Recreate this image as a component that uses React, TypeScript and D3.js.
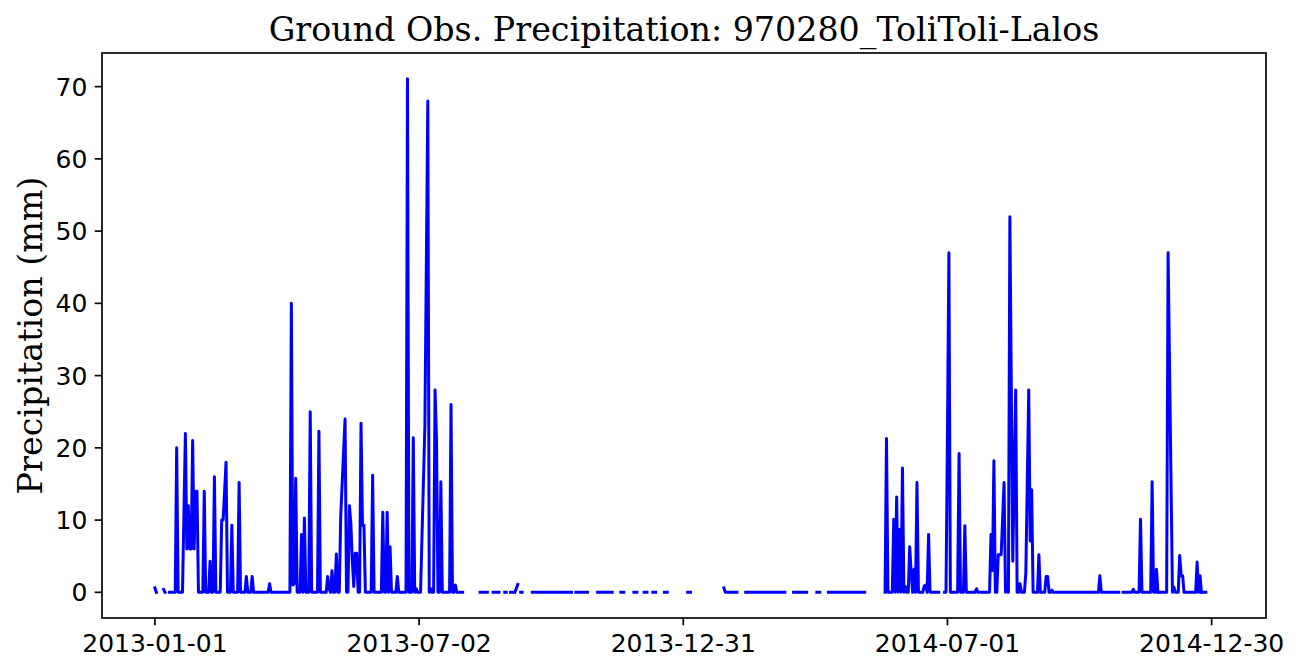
import React from "react";
import * as d3 from "d3";

type Pt = [number, number] | null;

// day offset from 2013-01-01, precipitation (mm); null = missing (line break)
const wet2013: Pt[] = [
  [0, 0.6], [1, 0], null,
  [6, 0.4], [7, 0], null,
  [10, 0], [14, 0], [15, 20], [16, 0], [19, 0], [21, 22], [22, 6], [23, 12], [24, 6], [25, 6],
  [26, 21], [27, 6], [28, 14], [29, 14], [30, 0], [33, 0], [34, 14], [35, 0], [37, 0], [38, 4.3],
  [39, 0], [40, 0], [41, 16], [42, 0], [45, 0], [46, 10], [47, 10], [49, 18], [50, 0], [52, 0],
  [53, 9.3], [54, 0], [57, 0], [58, 15.2], [59, 0], [62, 0], [63, 2.2], [64, 0], [66, 0], [67, 2.2],
  [68, 0], [78, 0], [79, 1.2], [80, 0], [93, 0], [94, 40], [95, 1], [96, 1.2], [97, 15.8], [98, 0],
  [100, 0], [101, 8], [102, 0], [103, 10.3], [104, 0], [106, 0], [107, 25], [108, 0], [112, 0],
  [113, 22.3], [114, 0], [118, 0], [119, 2.2], [120, 0.5], [121, 0], [122, 3], [123, 0], [124, 0],
  [125, 5.3], [126, 0], [127, 0], [128, 10.5], [131, 24], [132, 0], [133, 0], [134, 12], [135, 9.5],
  [136, 4.3], [137, 0.8], [138, 5.4], [139, 5.4], [140, 0], [141, 0], [142, 23.4], [143, 9.3],
  [144, 9.3], [145, 0], [149, 0], [150, 16.2], [151, 0], [156, 0], [157, 11.1], [158, 0], [159, 0],
  [160, 11.1], [161, 0], [162, 6.3], [163, 0], [166, 0], [167, 2.2], [168, 0], [173, 0], [174, 71.1],
  [175, 0], [177, 0], [178, 21.4], [179, 0], [180, 0.5], [181, 0], [183, 0], [186, 23.2], [188, 68],
  [189, 0], [190, 0.5], [191, 0], [192, 0], [193, 28], [194, 21.2], [195, 0], [196, 0], [197, 15.3],
  [198, 0], [203, 0], [204, 26], [205, 0], [206, 0], [207, 1], [208, 0], [212, 0],
];

const dry2013: Pt[] = [
  [224, 0], [229, 0], null, [233, 0], [237, 0], null, [241, 0], [242, 0], null,
  [245, 0], [246, 0], null, [248, 0], [250, 1.1], null, [252, 0], [253, 0], null,
  [260, 0], [287, 0], null, [290, 0], [298, 0], null, [305, 0], [315, 0], null,
  [321, 0], [323, 0], null, [330, 0], [332, 0], null, [337, 0], [339, 0], null,
  [343, 0], [345, 0], null, [351, 0], [353, 0], null, [367, 0], [369, 0], null,
  [392, 0.6], [393, 0], [401, 0], null, [407, 0], [434, 0], null, [440, 0], [449, 0], null,
  [456, 0], [458, 0], null, [464, 0], [489, 0],
];

const wet2014: Pt[] = [
  [503, 0], [504, 21.3], [505, 0], [508, 0], [509, 10.1], [510, 0], [511, 13.2], [512, 0],
  [513, 8.7], [514, 0], [515, 17.2], [516, 0], [517, 0.8], [518, 0], [519, 0], [520, 6.3],
  [521, 2.7], [522, 0], [523, 3.2], [524, 0], [525, 15.2], [526, 0], [529, 0], [530, 0.9],
  [531, 1], [532, 0], [533, 8], [534, 0], [540, 0], null,
  [544, 0], [545, 0], [546, 22], [547, 47], [548, 0], [553, 0], [554, 19.2], [555, 0], [557, 0], [558, 9.2],
  [559, 0], [565, 0], [566, 0.5], [567, 0], [575, 0], [576, 8], [577, 3], [578, 18.2], [579, 0],
  [580, 0], [581, 5.2], [583, 5.2], [585, 15.2], [586, 0], [587, 0.9], [588, 0], [589, 52],
  [591, 4.3], [593, 28], [594, 0], [595, 0], [596, 1.2], [597, 0], [599, 0], [600, 2.7], [602, 28],
  [603, 7.1], [604, 14.2], [605, 0], [608, 0], [609, 5.2], [610, 0], [613, 0], [614, 2.2],
  [615, 2.2], [616, 0], [617, 0], [618, 0.3], [619, 0], [650, 0], [651, 2.3], [652, 0], [664, 0], null,
  [667, 0], [673, 0], [674, 0.4], [675, 0], [678, 0], [679, 10.1], [680, 0], [686, 0], [687, 15.3],
  [688, 0], [689, 0], [690, 3.2], [691, 0], null,
  [693, 0], [697, 0], [698, 47], [701, 0], [702, 0.7], [703, 0], [705, 0], [706, 5.1], [707, 2.3],
  [708, 2.3], [709, 0], [717, 0], [718, 4.2], [719, 0], [720, 2.3], [721, 0], null,
  [723, 0], [724, 0],
];

const lastDay = 729; // 2014-12-31
const xTickLabels = ["2013-01-01", "2013-07-02", "2013-12-31", "2014-07-01", "2014-12-30"];
const yTickValues = [0, 10, 20, 30, 40, 50, 60, 70];
const titleText = "Ground Obs. Precipitation: 970280_ToliToli-Lalos";
const yLabelText = "Precipitation (mm)";

const W = 1297;
const H = 672;
const M = { left: 102, right: 1266, top: 53, bottom: 618 };
const DAY = 86400000;
const start = Date.UTC(2013, 0, 1);

export default function App() {
  const series: Pt[] = [...wet2013, null, ...dry2013, null, ...wet2014];
  const vals = series.filter((d): d is [number, number] => d !== null).map((d) => d[1]);
  const yMin = 0;
  const yMax = d3.max(vals) as number;
  const yPad = (yMax - yMin) * 0.05;
  const xPad = lastDay * 0.05;

  const x = d3
    .scaleUtc()
    .domain([new Date(start - xPad * DAY), new Date(start + (lastDay + xPad) * DAY)])
    .range([M.left, M.right]);
  const y = d3.scaleLinear().domain([yMin - yPad, yMax + yPad]).range([M.bottom, M.top]);

  const line = d3
    .line<Pt>()
    .defined((d) => d !== null)
    .x((d) => x(new Date(start + (d as [number, number])[0] * DAY)))
    .y((d) => y((d as [number, number])[1]));

  const tickLen = 7.3;
  const tickPad = 7.3;
  const tickFont = 25;
  const axisColor = "#000";

  return (
    <svg
      width={W}
      height={H}
      style={{ position: "absolute", left: 0, top: 0, display: "block", background: "#fff" }}
    >
      <rect x={0} y={0} width={W} height={H} fill="#fff" />
      <defs>
        <clipPath id="plotclip">
          <rect x={M.left} y={M.top} width={M.right - M.left} height={M.bottom - M.top} />
        </clipPath>
      </defs>
      <path
        d={line(series) || ""}
        fill="none"
        stroke="#0000ff"
        strokeWidth={3}
        strokeLinejoin="round"
        strokeLinecap="square"
        clipPath="url(#plotclip)"
      />
      <rect
        x={M.left}
        y={M.top}
        width={M.right - M.left}
        height={M.bottom - M.top}
        fill="none"
        stroke={axisColor}
        strokeWidth={1.67}
      />
      {xTickLabels.map((t) => {
        const px = x(new Date(t + "T00:00:00Z"));
        return (
          <g key={t}>
            <line x1={px} x2={px} y1={M.bottom} y2={M.bottom + tickLen} stroke={axisColor} strokeWidth={1.67} />
            <text
              x={px}
              y={M.bottom + tickLen + tickPad + 19}
              textAnchor="middle"
              fontFamily="DejaVu Sans"
              fontSize={tickFont}
              fill="#000"
            >
              {t}
            </text>
          </g>
        );
      })}
      {yTickValues.map((v) => {
        const py = y(v);
        return (
          <g key={v}>
            <line x1={M.left - tickLen} x2={M.left} y1={py} y2={py} stroke={axisColor} strokeWidth={1.67} />
            <text
              x={M.left - tickLen - tickPad}
              y={py + 9}
              textAnchor="end"
              fontFamily="DejaVu Sans"
              fontSize={tickFont}
              fill="#000"
            >
              {v}
            </text>
          </g>
        );
      })}
      <text
        x={(M.left + M.right) / 2}
        y={M.top - 12.5}
        textAnchor="middle"
        fontFamily="DejaVu Serif"
        fontSize={33.3}
        fill="#000"
      >
        {titleText}
      </text>
      <text
        transform={`translate(42, ${(M.top + M.bottom) / 2}) rotate(-90)`}
        textAnchor="middle"
        fontFamily="DejaVu Serif"
        fontSize={33.3}
        fill="#000"
      >
        {yLabelText}
      </text>
    </svg>
  );
}
